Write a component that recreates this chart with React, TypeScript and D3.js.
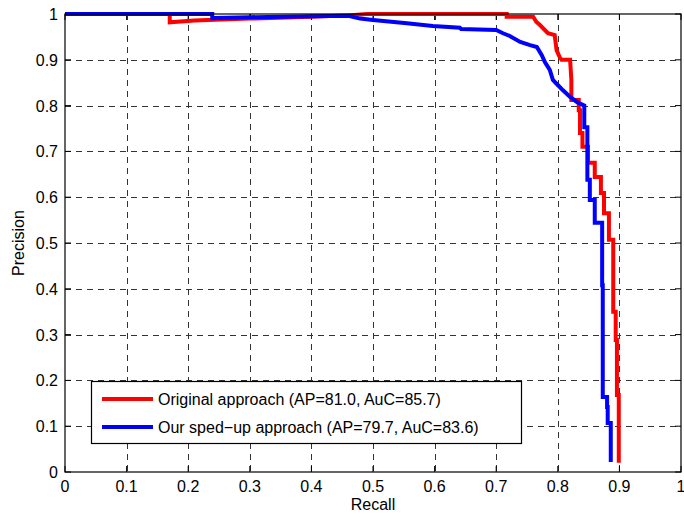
import React from "react";
import * as d3 from "d3";

const xTicks = [0, 0.1, 0.2, 0.3, 0.4, 0.5, 0.6, 0.7, 0.8, 0.9, 1];
const yTicks = [0, 0.1, 0.2, 0.3, 0.4, 0.5, 0.6, 0.7, 0.8, 0.9, 1];

const redRecall = [0, 0.17, 0.17, 0.21, 0.3, 0.4, 0.46, 0.49, 0.717, 0.717, 0.76, 0.765, 0.771, 0.784, 0.795, 0.798, 0.803, 0.806, 0.82, 0.822, 0.822, 0.834, 0.834, 0.836, 0.836, 0.84, 0.84, 0.849, 0.849, 0.86, 0.86, 0.87, 0.87, 0.875, 0.875, 0.883, 0.883, 0.89, 0.89, 0.894, 0.894, 0.896, 0.896, 0.899, 0.899];
const redPrecision = [1, 1, 0.982, 0.986, 0.99, 0.994, 0.997, 1.0, 1.0, 0.994, 0.994, 0.983, 0.976, 0.958, 0.954, 0.921, 0.906, 0.9, 0.9, 0.856, 0.812, 0.812, 0.79, 0.79, 0.74, 0.74, 0.71, 0.71, 0.675, 0.675, 0.644, 0.644, 0.609, 0.609, 0.565, 0.565, 0.507, 0.507, 0.35, 0.35, 0.288, 0.288, 0.168, 0.168, 0.02];

const blueRecall = [0, 0.239, 0.239, 0.3, 0.4, 0.46, 0.479, 0.5, 0.555, 0.597, 0.641, 0.643, 0.7, 0.711, 0.722, 0.739, 0.755, 0.766, 0.774, 0.779, 0.787, 0.792, 0.8, 0.808, 0.82, 0.831, 0.843, 0.843, 0.848, 0.848, 0.852, 0.852, 0.86, 0.86, 0.872, 0.872, 0.873, 0.873, 0.88, 0.88, 0.881, 0.881, 0.886, 0.886];
const bluePrecision = [1, 1, 0.991, 0.993, 0.995, 0.996, 0.99, 0.987, 0.98, 0.974, 0.97, 0.967, 0.965, 0.958, 0.952, 0.939, 0.932, 0.928, 0.91, 0.895, 0.878, 0.856, 0.845, 0.834, 0.819, 0.808, 0.8, 0.753, 0.753, 0.638, 0.638, 0.594, 0.594, 0.544, 0.544, 0.408, 0.408, 0.164, 0.164, 0.142, 0.142, 0.107, 0.107, 0.022];

const seriesNames = [
  "Original approach (AP=81.0, AuC=85.7)",
  "Our sped\u2212up approach (AP=79.7, AuC=83.6)",
];
const seriesColors = ["#ff0000", "#0000ff"];

const W = 684;
const H = 519;
const L = 65;
const R = 681;
const T = 14;
const B = 472;
const FONT = "'Liberation Sans', Arial, Helvetica, sans-serif";

export default function App() {
  const x = d3.scaleLinear().domain([0, 1]).range([L, R]);
  const y = d3.scaleLinear().domain([0, 1]).range([B, T]);
  const line = d3
    .line<[number, number]>()
    .x((d) => x(d[0]))
    .y((d) => y(d[1]));
  const red = redRecall.map((r, i) => [r, redPrecision[i]] as [number, number]);
  const blue = blueRecall.map((r, i) => [r, bluePrecision[i]] as [number, number]);
  const tickLen = 6;

  return (
    <svg
      width={W}
      height={H}
      style={{ position: "absolute", left: 0, top: 0, background: "#fff" }}
      fontFamily={FONT}
    >
      <rect x={0} y={0} width={W} height={H} fill="#fff" />
      {xTicks.slice(1, -1).map((t) => (
        <line
          key={"gx" + t}
          x1={Math.round(x(t)) + 0.5}
          x2={Math.round(x(t)) + 0.5}
          y1={T}
          y2={B}
          stroke="#333"
          strokeWidth={1}
          strokeDasharray="6,5"
        />
      ))}
      {yTicks.slice(1, -1).map((t) => (
        <line
          key={"gy" + t}
          x1={L}
          x2={R}
          y1={Math.round(y(t)) + 0.5}
          y2={Math.round(y(t)) + 0.5}
          stroke="#333"
          strokeWidth={1}
          strokeDasharray="6,5"
        />
      ))}
      {xTicks.map((t) => (
        <g key={"tx" + t}>
          <line x1={x(t)} x2={x(t)} y1={B} y2={B - tickLen} stroke="#000" />
          <line x1={x(t)} x2={x(t)} y1={T} y2={T + tickLen} stroke="#000" />
          <text x={x(t)} y={B + 20} fontSize={16} textAnchor="middle" fill="#000">
            {String(t)}
          </text>
        </g>
      ))}
      {yTicks.map((t) => (
        <g key={"ty" + t}>
          <line x1={L} x2={L + tickLen} y1={y(t)} y2={y(t)} stroke="#000" />
          <line x1={R} x2={R - tickLen} y1={y(t)} y2={y(t)} stroke="#000" />
          <text x={L - 7} y={y(t) + 6} fontSize={16} textAnchor="end" fill="#000">
            {String(t)}
          </text>
        </g>
      ))}
      <path d={line(red) || ""} fill="none" stroke={seriesColors[0]} strokeWidth={4} strokeLinejoin="miter" />
      <path d={line(blue) || ""} fill="none" stroke={seriesColors[1]} strokeWidth={4} strokeLinejoin="miter" />
      <rect x={L} y={T} width={R - L} height={B - T} fill="none" stroke="#000" strokeWidth={1.2} />
      <text x={(L + R) / 2} y={510} fontSize={16} textAnchor="middle" fill="#000">
        Recall
      </text>
      <text
        transform={`translate(24,${(T + B) / 2}) rotate(-90)`}
        fontSize={16}
        textAnchor="middle"
        fill="#000"
      >
        Precision
      </text>
      <rect x={91.5} y={381.5} width={430} height={62} fill="#fff" stroke="#000" strokeWidth={1.2} />
      {seriesNames.map((n, i) => (
        <g key={n}>
          <line x1={102} x2={153} y1={399 + i * 28} y2={399 + i * 28} stroke={seriesColors[i]} strokeWidth={4} />
          <text x={158} y={405 + i * 28} fontSize={16} fill="#000">
            {n}
          </text>
        </g>
      ))}
    </svg>
  );
}
